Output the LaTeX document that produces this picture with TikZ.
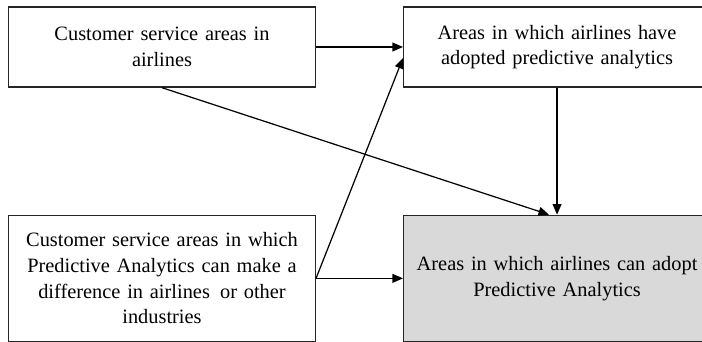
\documentclass[tikz,border=0pt]{standalone}
\usepackage{fontspec}
\setmainfont{Liberation Serif}
\usetikzlibrary{positioning,arrows.meta}
\begin{document}
\begin{tikzpicture}[
  x=0.02cm, y=-0.02cm,
  box/.style={draw=black!85, line width=0.8pt, align=center, minimum width=6.08cm, text width=5.9cm,
    font=\fontsize{11.6}{14.6}\selectfont},
  smallbox/.style={box, minimum height=1.6cm},
  bigbox/.style={box, minimum height=2.52cm},
  arrow/.style={-{Triangle[length=6pt,width=5pt]}, line width=0.7pt}
]
\useasboundingbox (0,0) rectangle (702,341);
\clip (0,0) rectangle (702,341);
\node[smallbox] (service) at (162,47) {Customer service areas in\\airlines};
\node[smallbox, right=1.74cm of service] (adopted) {Areas in which airlines have\\adopted predictive analytics};
\node[bigbox, below=2.54cm of service] (difference) {Customer service areas in which\\Predictive Analytics can make a\\difference in airlines\, or other\\industries};
\node[bigbox, right=1.74cm of difference, fill=black!15] (canadopt) {Areas in which airlines can adopt\\Predictive Analytics};
\draw[arrow] (service.east) -- (adopted.west);
\draw[arrow] (difference.east) -- ([yshift=-0.22cm]adopted.west);
\draw[arrow] (difference.east) -- (canadopt.west);
\draw[arrow] (service.south) -- ([xshift=-0.16cm]canadopt.north);
\draw[arrow] (adopted.south) -- (canadopt.north);
\end{tikzpicture}
\end{document}
